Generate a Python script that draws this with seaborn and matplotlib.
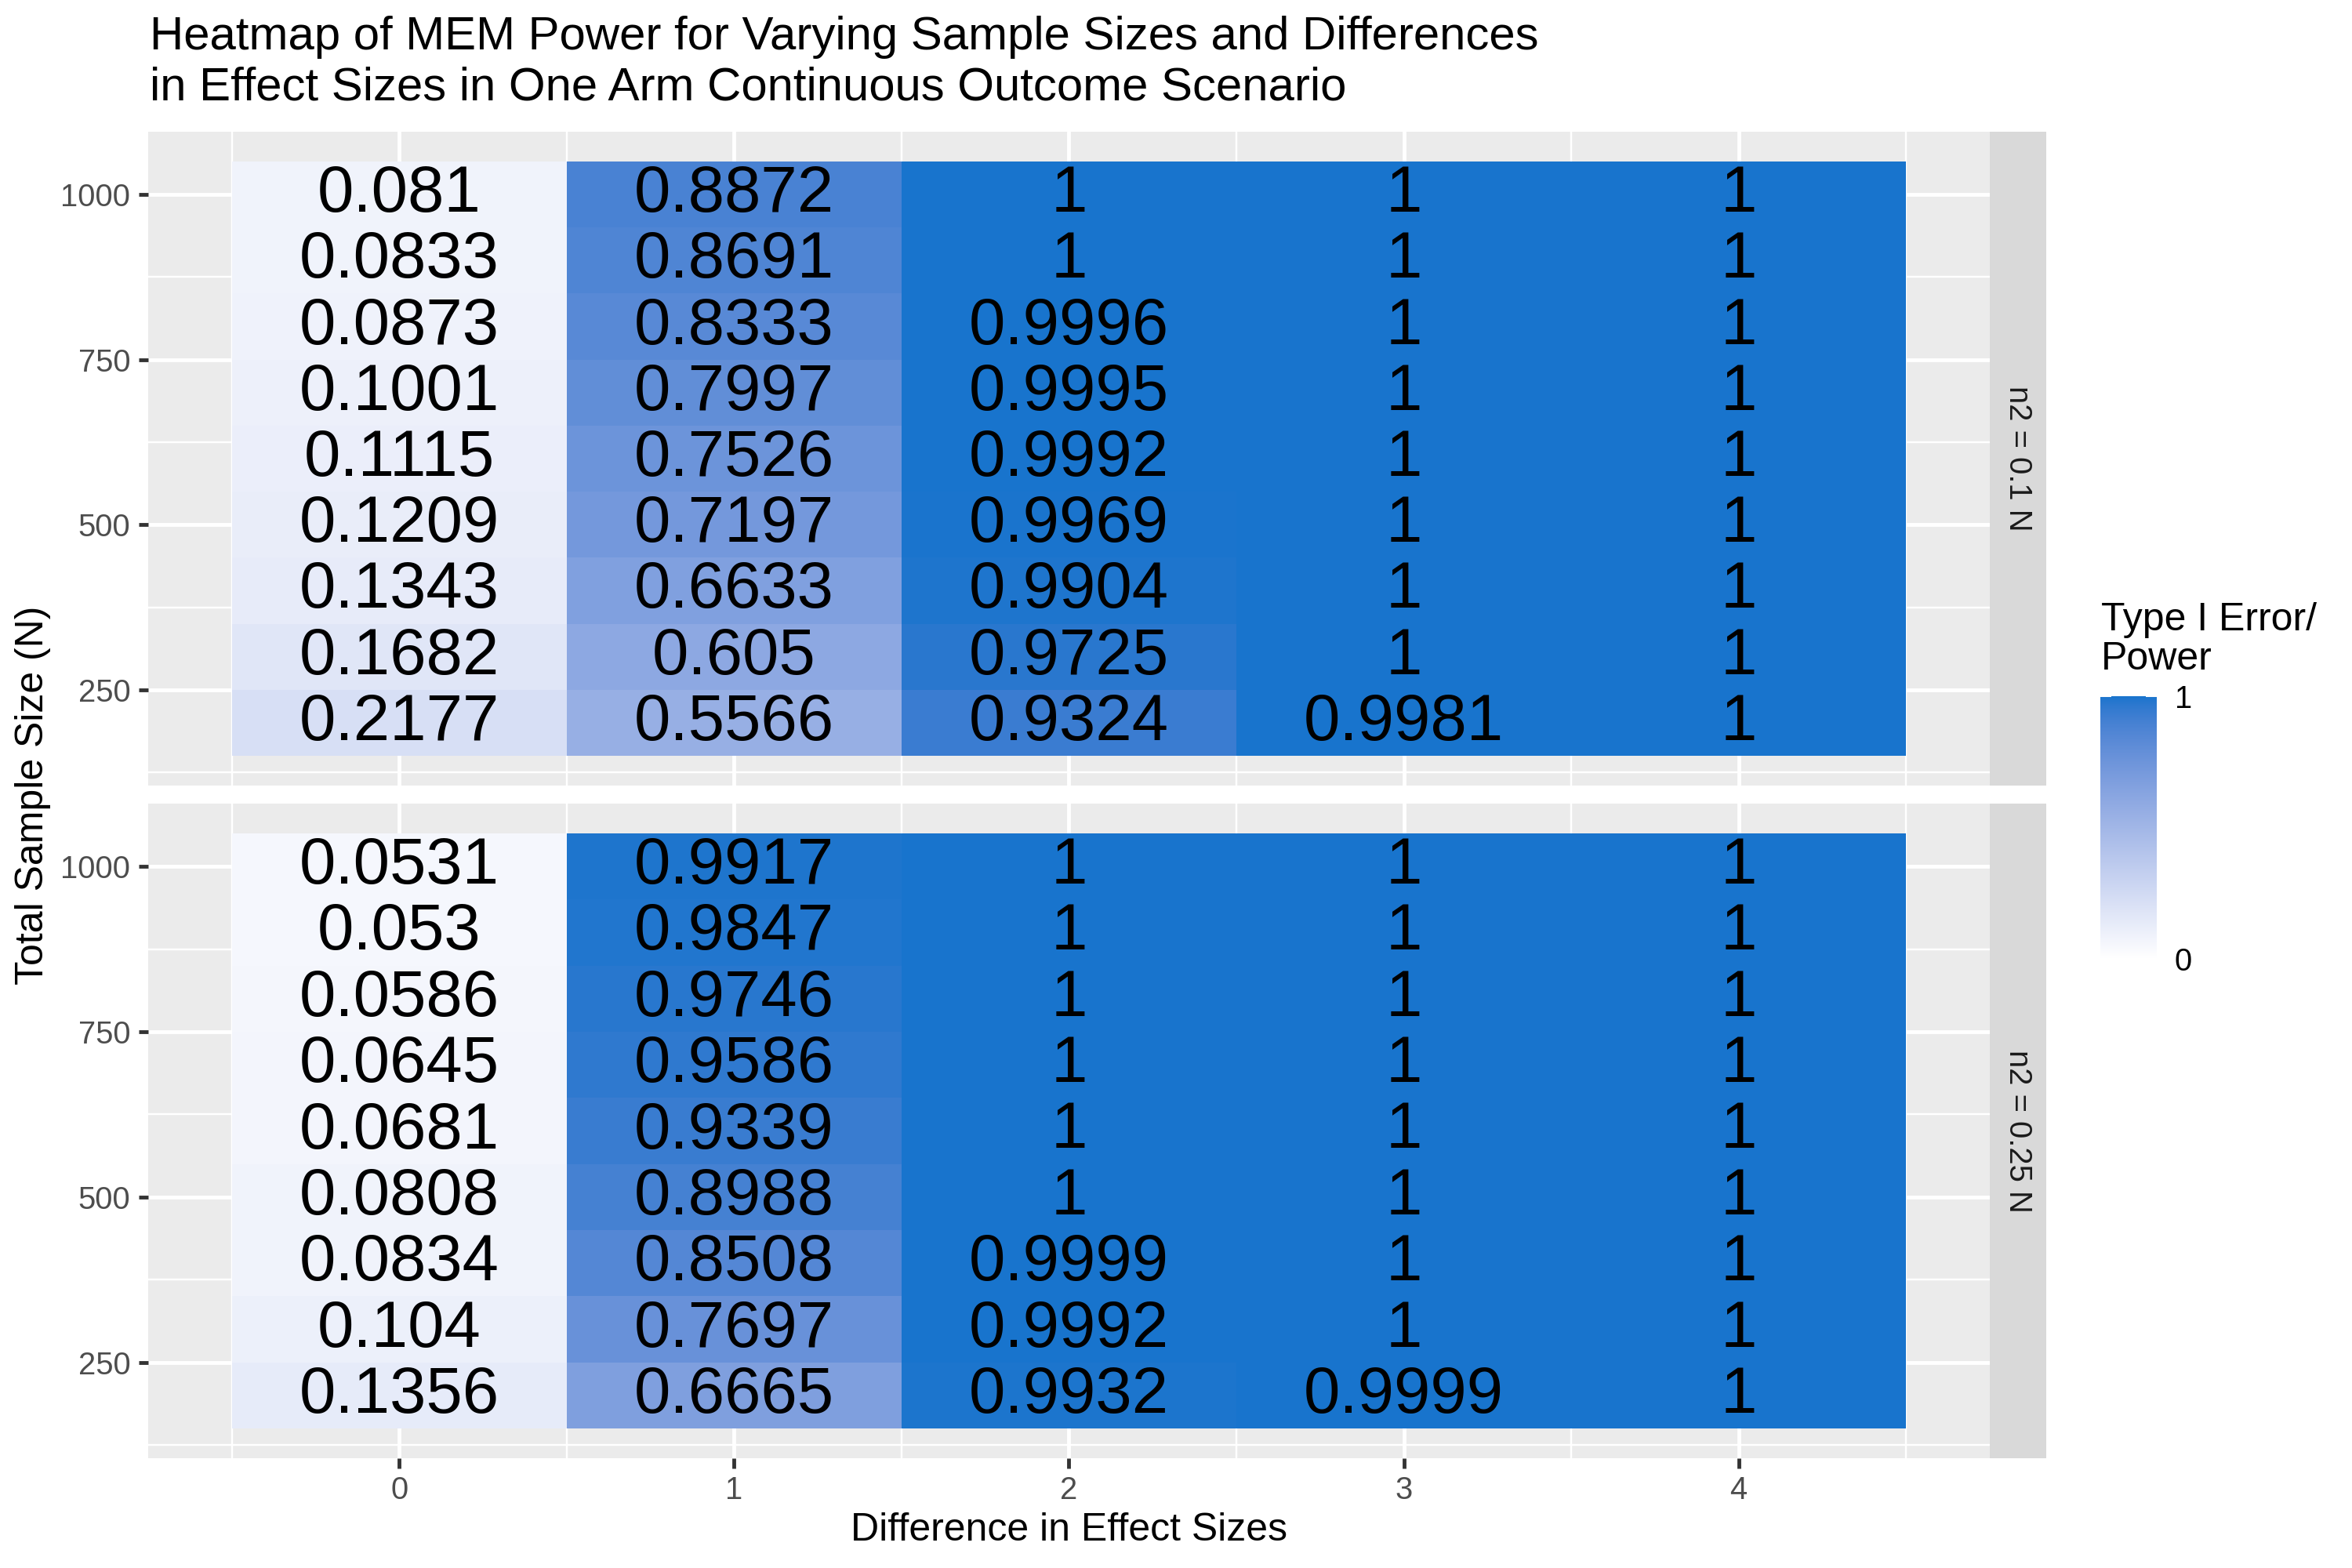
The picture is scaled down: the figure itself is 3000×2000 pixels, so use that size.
import numpy as np
import pandas as pd
import matplotlib
matplotlib.use("Agg")
import matplotlib.pyplot as plt
from matplotlib.colors import ListedColormap
import seaborn as sns

plt.rcParams['font.family'] = ['Liberation Sans', 'DejaVu Sans']

# ---------------- data ----------------
sample_sizes = [1000, 900, 800, 700, 600, 500, 400, 300, 200]
differences = [0, 1, 2, 3, 4]
facet_labels = ["n2 = 0.1 N", "n2 = 0.25 N"]

# n2 = 0.1 N
p01_d0 = [0.081, 0.0833, 0.0873, 0.1001, 0.1115, 0.1209, 0.1343, 0.1682, 0.2177]
p01_d1 = [0.8872, 0.8691, 0.8333, 0.7997, 0.7526, 0.7197, 0.6633, 0.605, 0.5566]
p01_d2 = [1, 1, 0.9996, 0.9995, 0.9992, 0.9969, 0.9904, 0.9725, 0.9324]
p01_d3 = [1, 1, 1, 1, 1, 1, 1, 1, 0.9981]
p01_d4 = [1, 1, 1, 1, 1, 1, 1, 1, 1]

# n2 = 0.25 N
p025_d0 = [0.0531, 0.053, 0.0586, 0.0645, 0.0681, 0.0808, 0.0834, 0.104, 0.1356]
p025_d1 = [0.9917, 0.9847, 0.9746, 0.9586, 0.9339, 0.8988, 0.8508, 0.7697, 0.6665]
p025_d2 = [1, 1, 1, 1, 1, 1, 0.9999, 0.9992, 0.9932]
p025_d3 = [1, 1, 1, 1, 1, 1, 1, 1, 0.9999]
p025_d4 = [1, 1, 1, 1, 1, 1, 1, 1, 1]

y_ticks = [250, 500, 750, 1000]
x_ticks = [0, 1, 2, 3, 4]

rows = []
for facet, cols in zip(facet_labels, [[p01_d0, p01_d1, p01_d2, p01_d3, p01_d4],
                                      [p025_d0, p025_d1, p025_d2, p025_d3, p025_d4]]):
    for d, vals in zip(differences, cols):
        for n, v in zip(sample_sizes, vals):
            rows.append((facet, d, n, v))
df = pd.DataFrame(rows, columns=["facet", "diff", "N", "power"])

# ---------------- colour scale (Lab interpolation white -> dodgerblue3) ----------------
def srgb_to_lab(rgb):
    c = np.asarray(rgb, float) / 255.0
    lin = np.where(c <= 0.04045, c / 12.92, ((c + 0.055) / 1.055) ** 2.4)
    M = np.array([[0.4124564, 0.3575761, 0.1804375],
                  [0.2126729, 0.7151522, 0.0721750],
                  [0.0193339, 0.1191920, 0.9503041]])
    xyz = M @ lin
    t = xyz / np.array([0.95047, 1.0, 1.08883])
    d = 6 / 29
    f = np.where(t > d ** 3, np.cbrt(t), t / (3 * d * d) + 4 / 29)
    return np.array([116 * f[1] - 16, 500 * (f[0] - f[1]), 200 * (f[1] - f[2])])

def lab_to_srgb(lab):
    L, a, b = lab
    fy = (L + 16) / 116
    fx = fy + a / 500
    fz = fy - b / 200
    d = 6 / 29
    f = np.array([fx, fy, fz])
    t = np.where(f > d, f ** 3, 3 * d * d * (f - 4 / 29))
    xyz = t * np.array([0.95047, 1.0, 1.08883])
    Minv = np.array([[3.2404542, -1.5371385, -0.4985314],
                     [-0.9692660, 1.8760108, 0.0415560],
                     [0.0556434, -0.2040259, 1.0572252]])
    lin = np.clip(Minv @ xyz, 0, 1)
    c = np.where(lin <= 0.0031308, 12.92 * lin, 1.055 * lin ** (1 / 2.4) - 0.055)
    return np.clip(c, 0, 1)

lab_lo = srgb_to_lab([255, 255, 255])
lab_hi = srgb_to_lab([0x18, 0x74, 0xCD])
cmap = ListedColormap([lab_to_srgb(lab_lo + (lab_hi - lab_lo) * s) for s in np.linspace(0, 1, 512)])

# ---------------- figure ----------------
base = 12
fig = plt.figure(figsize=(10, 20 / 3), dpi=300)

panel_left, panel_right = 189 / 3000, 2538 / 3000
strip_right = 2610 / 3000
panel_tops = [1 - 168 / 2000, 1 - 1025 / 2000]
panel_bottoms = [1 - 1002 / 2000, 1 - 1860 / 2000]

cax = fig.add_axes([2679 / 3000, 1 - 1223 / 2000, 72 / 3000, 335 / 2000])

grid_lw = 1.16
for i, facet in enumerate(facet_labels):
    b, t = panel_bottoms[i], panel_tops[i]
    ax = fig.add_axes([panel_left, b, panel_right - panel_left, t - b])
    ax.set_facecolor('#EBEBEB')
    for s in ax.spines.values():
        s.set_visible(False)
    ax.set_xlim(-0.75, 4.75)
    ax.set_ylim(105, 1095)
    ax.set_xticks(x_ticks)
    ax.set_xticks([-0.5, 0.5, 1.5, 2.5, 3.5, 4.5], minor=True)
    ax.set_yticks(y_ticks)
    ax.set_yticks([125, 375, 625, 875], minor=True)
    ax.set_axisbelow(True)
    ax.grid(which='major', color='white', lw=grid_lw)
    ax.grid(which='minor', color='white', lw=grid_lw / 2)
    ax.tick_params(which='major', length=3.0, width=grid_lw, color='#333333',
                   labelsize=base * 0.8, labelcolor='#4D4D4D', pad=2.4)
    ax.tick_params(which='minor', length=0)
    if i == 0:
        ax.tick_params(axis='x', which='both', bottom=False, labelbottom=False)
    else:
        ax.set_xlabel("Difference in Effect Sizes", fontsize=base, labelpad=2)

    sub = df[df.facet == facet].pivot(index="N", columns="diff", values="power")
    sub = sub.sort_index(ascending=False)
    labels = np.vectorize(lambda v: f"{v:g}")(sub.values)
    inset = ax.inset_axes([-0.5, 150, 5, 900], transform=ax.transData)
    sns.heatmap(sub, ax=inset, cmap=cmap, vmin=0, vmax=1, annot=labels, fmt="",
                annot_kws={'size': 20, 'color': 'black'}, linewidths=0,
                cbar=(i == 0), cbar_ax=cax if i == 0 else None)
    inset.set_axis_off()

    sax = fig.add_axes([panel_right, b, strip_right - panel_right, t - b])
    sax.set_facecolor('#D9D9D9')
    sax.set_xticks([]); sax.set_yticks([])
    for s in sax.spines.values():
        s.set_visible(False)
    sax.text(0.5, 0.5, facet, rotation=270, ha='center', va='center',
             fontsize=base * 0.8, color='#1A1A1A', transform=sax.transAxes)

# colorbar styling
cax.set_yticks([0, 1])
cax.set_yticklabels(['0', '1'])
cax.tick_params(axis='y', left=True, right=True, labelleft=False, labelright=True,
                direction='in', color='white', length=3.4, width=0.5,
                labelsize=base * 0.8, labelcolor='black', pad=5.5)
for s in cax.spines.values():
    s.set_visible(False)
fig.text(2680 / 3000, 1 - 768 / 2000, "Type I Error/\nPower", fontsize=base, ha='left', va='top',
         linespacing=1.1)

# title
fig.text(191 / 3000, 1 - 63 / 2000, "Heatmap of MEM Power for Varying Sample Sizes and Differences",
         fontsize=base * 1.2, ha='left', va='baseline')
fig.text(191 / 3000, 1 - 128 / 2000, "in Effect Sizes in One Arm Continuous Outcome Scenario",
         fontsize=base * 1.2, ha='left', va='baseline')

# y label
fig.text(42 / 3000, (panel_tops[0] + panel_bottoms[1]) / 2, "Total Sample Size (N)",
         rotation=90, ha='center', va='center', fontsize=base)

fig.savefig("out.png", dpi=300, facecolor='white')
